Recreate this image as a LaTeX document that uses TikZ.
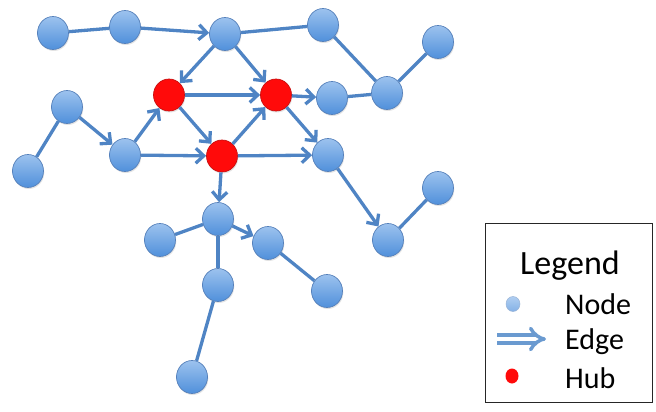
\documentclass[tikz,border=0pt]{standalone}
\usepackage{fontspec}
\setmainfont{Carlito}
\usetikzlibrary{arrows.meta,shapes.geometric,shadows}
\definecolor{edgeblue}{HTML}{4F84C4}
\definecolor{nodetop}{HTML}{9CC2EE}
\definecolor{nodebot}{HTML}{5090DB}
\definecolor{nodeborder}{HTML}{5580BA}
\definecolor{hubred}{HTML}{FF0A0A}
\definecolor{hubborder}{HTML}{C81010}
\definecolor{legedge}{HTML}{6A9AD0}
\begin{document}
\begin{tikzpicture}[x=1pt,y=-1pt,
  nd/.style={ellipse, minimum width=31pt, minimum height=33pt, inner sep=0pt,
    draw=nodeborder, line width=0.7pt, top color=nodetop, bottom color=nodebot,
    drop shadow={opacity=0.22, shadow xshift=0.8pt, shadow yshift=-1.5pt}},
  hub/.style={ellipse, minimum width=31pt, minimum height=32pt, inner sep=0pt,
    draw=hubborder, line width=0.7pt, fill=hubred,
    drop shadow={opacity=0.22, shadow xshift=0.8pt, shadow yshift=-1.5pt}},
  ln/.style={draw=edgeblue, line width=3.3pt},
  ar/.style={ln, -{Straight Barb[length=8pt,width=15pt]}},
  legtext/.style={font=\fontsize{30}{32}\selectfont, anchor=west, inner sep=0pt},
]
\useasboundingbox (0,0) rectangle (656,412);
% nodes
\node[nd] (A) at (53,33) {};
\node[nd] (B) at (125,27) {};
\node[nd] (C) at (225,34) {};
\node[nd] (D) at (323,25) {};
\node[nd] (E) at (438,42) {};
\node[nd] (F) at (387,93) {};
\node[nd] (G) at (332,98) {};
\node[hub] (H1) at (169,95) {};
\node[hub] (H2) at (276,95) {};
\node[nd] (I) at (67,107) {};
\node[nd] (J) at (28,171) {};
\node[nd] (K) at (125,155) {};
\node[hub] (H3) at (222,156) {};
\node[nd] (L) at (328,155) {};
\node[nd] (M) at (438,188) {};
\node[nd] (N) at (388,240) {};
\node[nd] (O) at (218,219) {};
\node[nd] (P) at (160,240) {};
\node[nd] (Q) at (268,243) {};
\node[nd] (R) at (327,291) {};
\node[nd] (S) at (218,285) {};
\node[nd] (T) at (192,377) {};
% edges
\draw[ln] (A) -- (B);
\draw[ar] (B) -- (C);
\draw[ln] (C) -- (D);
\draw[ln] (D) -- (F);
\draw[ln] (F) -- (E);
\draw[ln] (G) -- (F);
\draw[ar] (C) -- (H1);
\draw[ar] (C) -- (H2);
\draw[ar] (H1) -- (H2);
\draw[ar] (H2) -- (G);
\draw[ar] (H1) -- (H3);
\draw[ar] (H3) -- (H2);
\draw[ar] (H2) -- (L);
\draw[ar] (H3) -- (L);
\draw[ar] (K) -- (H1);
\draw[ar] (K) -- (H3);
\draw[ar] (I) -- (K);
\draw[ln] (I) -- (J);
\draw[ar] (H3) -- (O);
\draw[ar] (L) -- (N);
\draw[ln] (N) -- (M);
\draw[ar] (O) -- (Q);
\draw[ln] (O) -- (P);
\draw[ln] (O) -- (S);
\draw[ln] (S) -- (T);
\draw[ln] (Q) -- (R);
% legend
\node[draw=black!85, line width=1.8pt, minimum width=167pt, minimum height=179pt, inner sep=0pt] (legend) at (569,313) {};
\node[font=\fontsize{34}{36}\selectfont, inner sep=0pt] (legtitle) at (570,266) {Legend};
\node[ellipse, minimum width=14pt, minimum height=15pt, inner sep=0pt, draw=nodeborder!60, line width=0.5pt, top color=nodetop!80, bottom color=nodebot!70] (lnode) at (513,304) {};
\node[legtext] (tnode) at (565,304) {Node};
\coordinate (e1) at (497,339);
\coordinate (e2) at (546,339);
\draw[legedge, line width=3.5pt, double=white, double distance=4.5pt, -{Implies}] (e1) -- (e2);
\node[legtext] (tedge) at (565,342) {Edge};
\node[ellipse, minimum width=13pt, minimum height=15pt, inner sep=0pt, fill=hubred] (lhub) at (512,376) {};
\node[legtext] (thub) at (565,378) {Hub};
\end{tikzpicture}
\end{document}
